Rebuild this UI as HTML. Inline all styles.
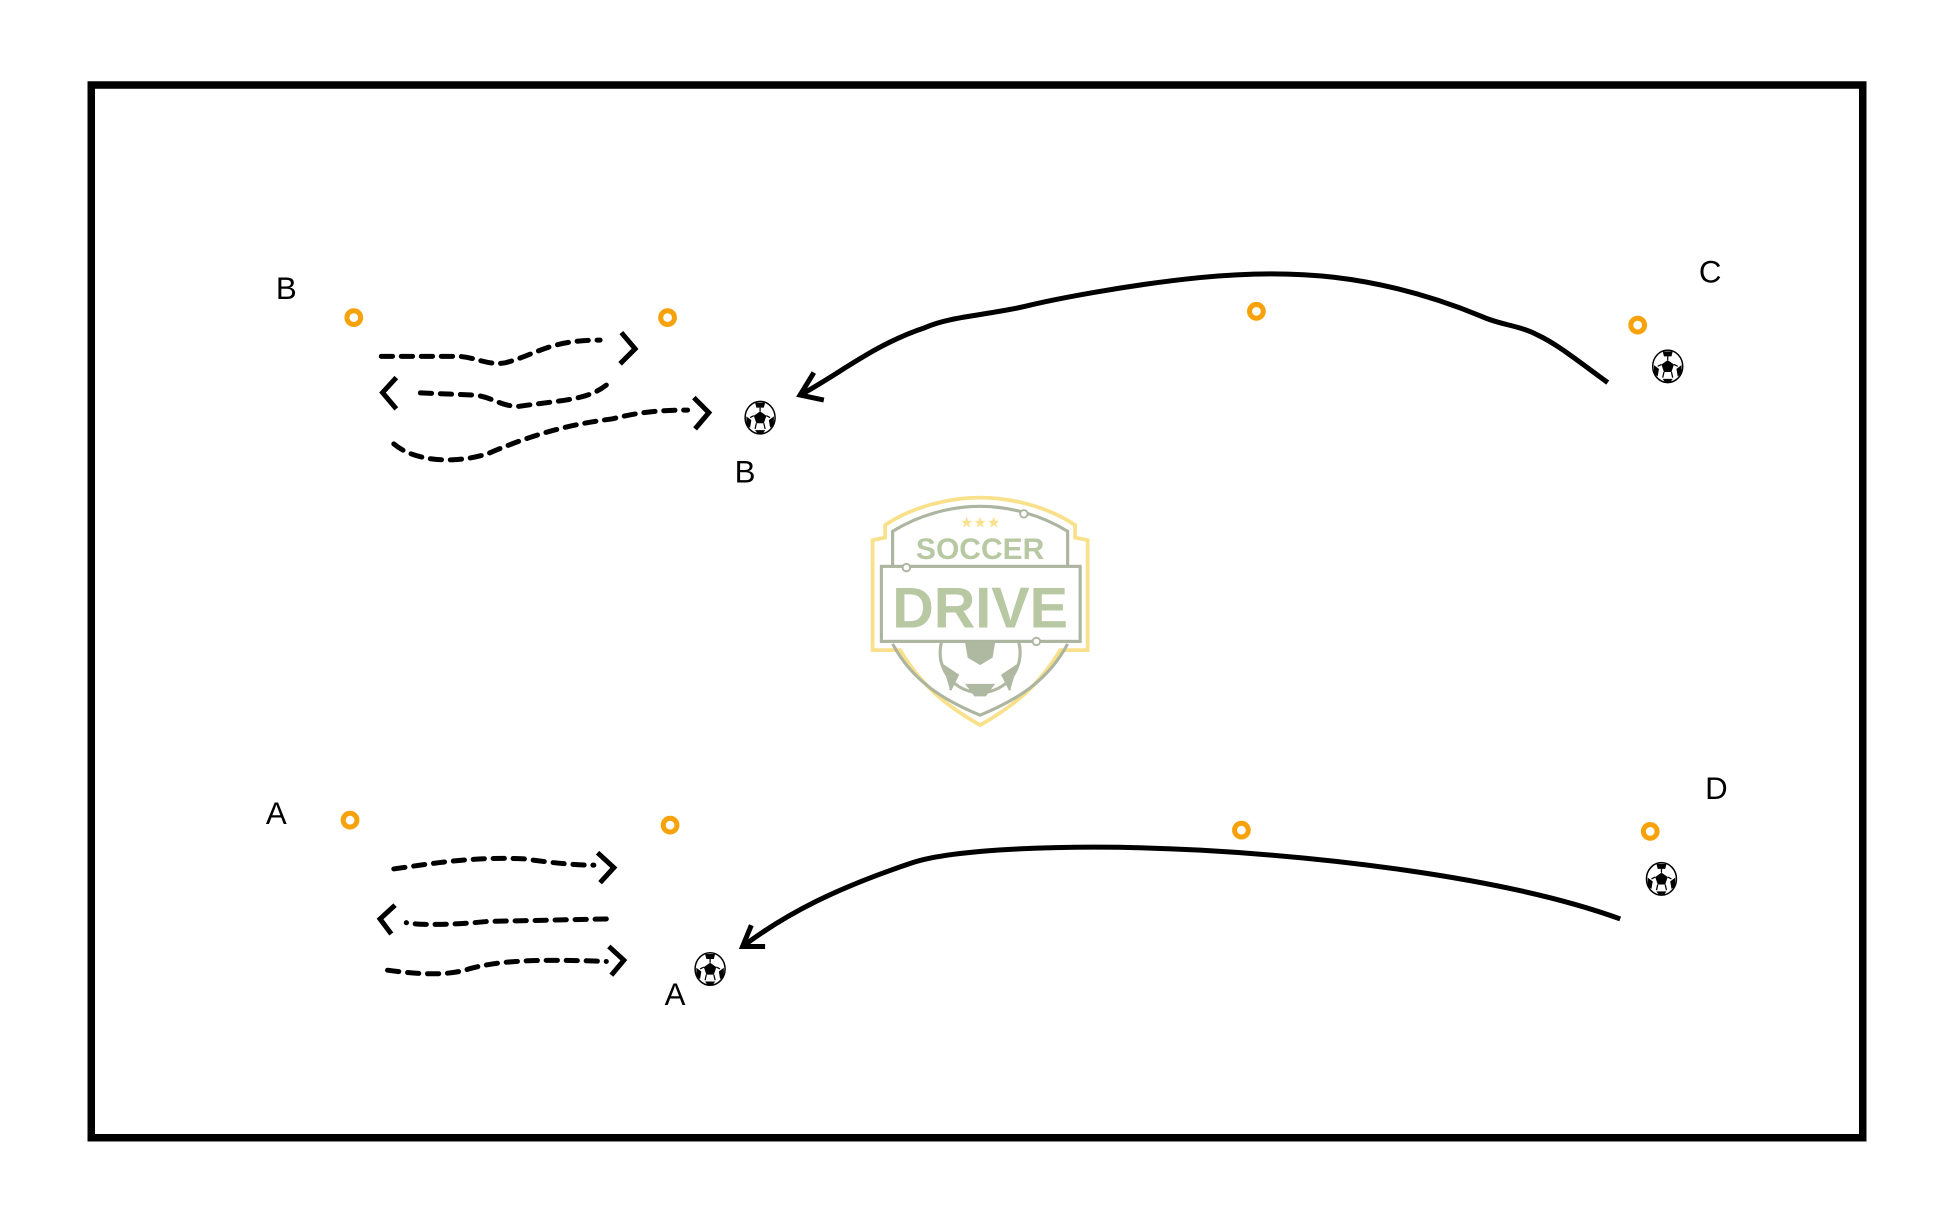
<!DOCTYPE html>
<html><head><meta charset="utf-8"><style>html,body{margin:0;padding:0;background:#fff}svg{display:block}</style></head>
<body>
<svg width="1959" height="1224" viewBox="0 0 1567 979" preserveAspectRatio="none" xmlns="http://www.w3.org/2000/svg">
<rect x="73" y="68" width="1417" height="842" fill="none" stroke="#000" stroke-width="6"/>
<!-- logo -->
<g opacity="0.9">
<path d="M708,430 L708,420 C730,405 760,398 784,398 C808,398 838,405 860,420 L860,430 L870,432 L870,520 L848,520 C830,550 810,565 784,580 C758,565 738,550 720,520 L698,520 L698,432 Z" fill="none" stroke="#f9dd7f" stroke-width="3"/>
<path d="M714,452 L714,425 C735,412 760,405 784,405 C808,405 833,412 854,425 L854,452 M714,515 C730,545 755,560 784,572 C813,560 838,545 854,515" fill="none" stroke="#a4ad95" stroke-width="2.5"/>
<circle cx="784" cy="522" r="32" fill="#fff" stroke="#a7b197" stroke-width="2.5"/>
<polygon points="772,514 796,514 794,526 784,532 774,526" fill="#a7b197"/>
<path d="M754,532 L766,540 L760,552 M814,532 L802,540 L808,552 M774,548 L794,548 L788,556 L780,556Z" fill="#a7b197" stroke="#a7b197" stroke-width="2"/>
<rect x="705" y="453" width="159" height="60" fill="#fff" stroke="#a4ad95" stroke-width="2.5"/>
<circle cx="725" cy="454" r="3" fill="#fff" stroke="#a4ad95" stroke-width="1.5"/>
<circle cx="829" cy="513" r="3" fill="#fff" stroke="#a4ad95" stroke-width="1.5"/>
<circle cx="819" cy="411" r="3" fill="#fff" stroke="#a4ad95" stroke-width="1.5"/>
<text x="784" y="447" font-family="Liberation Sans, sans-serif" font-weight="bold" font-size="24" fill="#b0c39a" text-anchor="middle">SOCCER</text>
<text x="784" y="502" font-family="Liberation Sans, sans-serif" font-weight="bold" font-size="46" fill="#b0c39a" text-anchor="middle">DRIVE</text>
<text x="784" y="422" font-family="DejaVu Sans, sans-serif" font-size="12" fill="#f9dd7f" text-anchor="middle">★★★</text>
</g>
<!-- cones -->
<g fill="none" stroke="#f7a20b" stroke-width="4">
<circle cx="283" cy="254" r="5.5"/><circle cx="534" cy="254" r="5.5"/><circle cx="1005" cy="249" r="5.5"/><circle cx="1310" cy="260" r="5.5"/>
<circle cx="280" cy="656" r="5.5"/><circle cx="536" cy="660" r="5.5"/><circle cx="993" cy="664" r="5.5"/><circle cx="1320" cy="665" r="5.5"/>
</g>
<!-- labels -->
<g font-family="Liberation Sans, sans-serif" font-size="25" fill="#000" text-anchor="middle">
<text x="229" y="239">B</text><text x="596" y="386">B</text><text x="1368" y="226">C</text>
<text x="1373" y="639">D</text><text x="221" y="659">A</text><text x="540" y="804">A</text>
</g>
<!-- balls -->
<defs>
<g id="ball"><ellipse rx="12" ry="13" fill="#fff" stroke="#000" stroke-width="1.2"/><polygon points="0,-5 5,-1.5 3,4.5 -3,4.5 -5,-1.5" fill="#000"/><path d="M-4,-12 L4,-12 L3,-8 L-3,-8Z M7,2 L11,-1 L11,6 L8,8Z M-7,2 L-11,-1 L-11,6 L-8,8Z M-4,10 L4,10 L2,13 L-2,13Z" fill="#000"/><path d="M0,-5 L0,-8 M5,-1.5 L8,0 M-5,-1.5 L-8,0 M3,4.5 L4,9 M-3,4.5 L-4,9" stroke="#000" stroke-width="1"/></g>
</defs>
<use href="#ball" x="608" y="334"/><use href="#ball" x="1334" y="293"/><use href="#ball" x="1329" y="703"/><use href="#ball" x="568" y="775"/>
<!-- solid arrows -->
<g fill="none" stroke="#000" stroke-width="4">
<path d="M1286,306 C1260,287 1245,275 1230,268 C1215,260 1200,260 1185,253 C1100,218 1030,215 960,222 C900,228 840,240 820,245 C790,252 760,253 740,262 C700,275 670,300 640,316"/>
<path d="M651,298 L640,316 L659,320"/>
<path d="M1296,735 C1200,700 1050,685 960,680 C850,674 760,680 730,690 C670,710 630,730 594,757"/>
<path d="M601,740 L594,757 L612,757"/>
</g>
<!-- dashed -->
<g fill="none" stroke="#000" stroke-width="4" stroke-dasharray="9,7" stroke-linecap="round">
<path d="M305,285 L365,285 C380,285 390,293 405,290 C430,283 440,272 480,272"/>
<path d="M485,308 C470,320 450,320 415,325 C400,325 395,318 380,316 L330,314"/>
<path d="M315,355 C330,368 360,372 390,363 C420,350 450,340 490,335 C510,330 525,328 550,328"/>
<path d="M315,695 C350,690 380,685 420,687 C440,690 460,692 475,692"/>
<path d="M485,735 L390,737 C360,740 335,740 325,738"/>
<path d="M310,776 C340,780 360,780 375,775 C400,768 430,767 485,769"/>
</g>
<g fill="none" stroke="#000" stroke-width="4">
<path d="M497,266 L508,279 L496,291"/><path d="M317,302 L306,314 L317,327"/><path d="M555,318 L567,330 L556,343"/>
<path d="M478,682 L491,694 L480,706"/><path d="M316,724 L304,735 L313,747"/><path d="M487,757 L499,768 L489,780"/>
</g>
</svg>
</body></html>
